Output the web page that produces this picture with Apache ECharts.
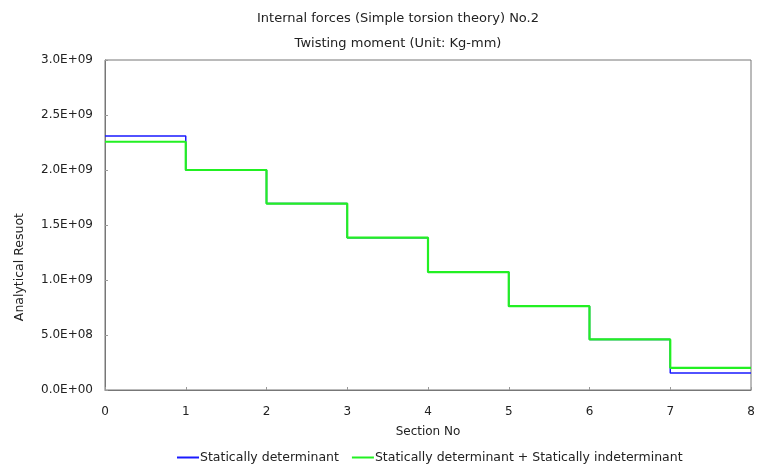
<!DOCTYPE html>
<html><head><meta charset="utf-8">
<script src="https://cdn.jsdelivr.net/npm/echarts@6/dist/echarts.min.js"></script>
<style>html,body{margin:0;padding:0;background:#fff}#c{width:771px;height:468px}</style>
</head><body><div id="c"></div>
<script>
const sections = [0, 1, 2, 3, 4, 5, 6, 7, 8];
const determinant = [2.31e9, 2.0e9, 1.695e9, 1.385e9, 1.072e9, 0.762e9, 0.46e9, 0.154e9, 0.154e9];
const combined = [2.257e9, 2.0e9, 1.695e9, 1.385e9, 1.072e9, 0.762e9, 0.46e9, 0.202e9, 0.202e9];
const seriesNames = ['Statically determinant', 'Statically determinant + Statically indeterminant'];
const titleLines = ['Internal forces (Simple torsion theory) No.2', 'Twisting moment (Unit: Kg-mm)'];
const xAxisName = 'Section No';
const yAxisName = 'Analytical Resuot';

function fmt(v) {
  if (v === 0) return '0.0E+00';
  const e = Math.floor(Math.log10(Math.abs(v)) + 1e-9);
  const m = v / Math.pow(10, e);
  return m.toFixed(1) + 'E+' + String(e).padStart(2, '0');
}

const chart = echarts.init(document.getElementById('c'));
const txt = '#222';
const font = 'DejaVu Sans, sans-serif';
chart.setOption({
  animation: false,
  textStyle: { fontFamily: font },
  title: [
    { text: titleLines[0], left: 393, top: 7, textAlign: 'center',
      textStyle: { fontSize: 13, fontWeight: 'normal', color: txt, fontFamily: font } },
    { text: titleLines[1], left: 393, top: 32, textAlign: 'center',
      textStyle: { fontSize: 13, fontWeight: 'normal', color: txt, fontFamily: font } }
  ],
  graphic: [{
    type: 'text', left: 13, top: 213, rotation: Math.PI / 2,
    style: { text: yAxisName, font: '12.5px DejaVu Sans', fill: txt }
  }],
  grid: { left: 105, right: 20, top: 60, bottom: 78, show: true, borderColor: '#777', borderWidth: 1 },
  legend: {
    left: 172, top: 446, itemGap: 13, icon: 'rect', itemWidth: 22, itemHeight: 2,
    textStyle: { fontSize: 12.5, color: txt, padding: [0, 0, 0, -4], fontFamily: font },
    data: seriesNames
  },
  xAxis: {
    type: 'value', min: 0, max: 8, interval: 1,
    name: xAxisName, nameLocation: 'middle', nameGap: 36,
    nameTextStyle: { fontSize: 12, color: txt },
    axisLine: { lineStyle: { color: '#777' } },
    axisTick: { inside: true, length: 3, lineStyle: { color: '#999' } },
    axisLabel: { fontSize: 12, color: txt, margin: 16 },
    splitLine: { show: false }
  },
  yAxis: {
    type: 'value', min: 0, max: 3e9, interval: 0.5e9,
    axisLine: { show: true, lineStyle: { color: '#777' } },
    axisTick: { show: true, inside: true, length: 3, lineStyle: { color: '#999' } },
    axisLabel: { fontSize: 12, color: txt, margin: 12, formatter: fmt },
    splitLine: { show: false }
  },
  series: [
    { name: seriesNames[0], type: 'line', step: 'end', showSymbol: false,
      color: '#1a1aff', lineStyle: { width: 1.5, color: '#1a1aff' },
      data: sections.map((s, i) => [s, determinant[i]]) },
    { name: seriesNames[1], type: 'line', step: 'end', showSymbol: false,
      color: '#22f022', lineStyle: { width: 2.2, color: '#22f022' },
      data: sections.map((s, i) => [s, combined[i]]) }
  ]
});
</script></body></html>
